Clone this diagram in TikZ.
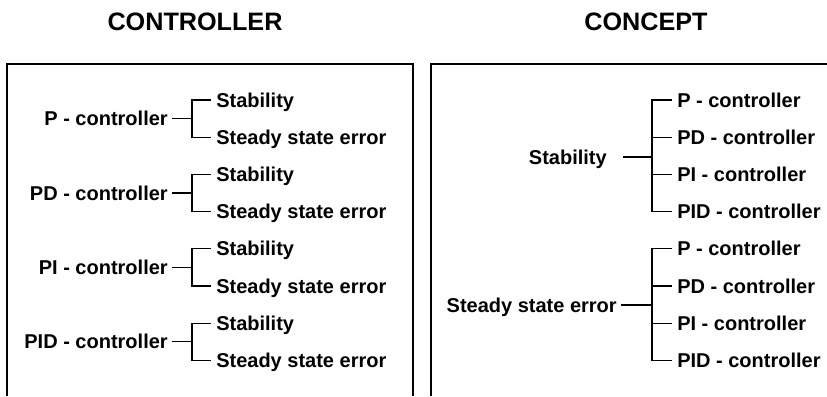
\documentclass[tikz,border=0pt]{standalone}
\usepackage{fontspec}
\setmainfont{Liberation Sans}
\begin{document}
\begin{tikzpicture}[x=0.75pt,y=-0.75pt,
  txt/.style={font=\bfseries\fontsize{15}{18}\selectfont, text height=10.7pt, text depth=0pt, inner ysep=0pt},
  item/.style={txt, anchor=west, inner xsep=3.75pt},
  lbl/.style={txt, anchor=east, inner xsep=3pt},
  title/.style={font=\bfseries\fontsize{18.9}{22}\selectfont, text height=13.5pt, text depth=0pt, inner sep=0pt},
  frame/.style={line width=1.5pt},
  link/.style={line width=0.9pt}]
\useasboundingbox (0,0) rectangle (827,396);

% headings
\node[title] (tctl) at (195,21) {CONTROLLER};
\node[title] (tcon) at (646,21) {CONCEPT};

% open frames
\draw[frame] (7,396) -- (7,64) -- (413,64) -- (413,396);
\draw[frame] (431,396) -- (431,64) -- (827,64);

% left panel: each controller with its two properties
\foreach \ctl [count=\i from 0] in {P,PD,PI,PID} {
  \pgfmathsetmacro\ya{100+74.4*\i}
  \pgfmathsetmacro\yb{\ya+37.2}
  \pgfmathsetmacro\ym{\ya+18.6}
  \node[lbl] (L\i) at (172,\ym) {\ctl\ - controller};
  \coordinate (LJ\i) at (192,\ym);
  \node[item] (LS\i) at (211,\ya) {Stability};
  \node[item] (LE\i) at (211,\yb) {Steady state error};
  \draw[link] (L\i.east) -- (LJ\i);
  \draw[link] (LS\i.west) -| (LJ\i) |- (LE\i.west);
}

% right panel: each property with the four controllers
\node[lbl] (RS) at (611,157) {Stability};
\coordinate (RSJ) at (652,157);
\node[lbl] (RE) at (621,305) {Steady state error};
\coordinate (REJ) at (652,305);
\draw[link] ([xshift=9pt]RS.east) -- (RSJ);
\draw[link] (RE.east) -- (REJ);

\foreach \ctl [count=\i from 0] in {P,PD,PI,PID} {
  \pgfmathsetmacro\ya{100+37.2*\i}
  \pgfmathsetmacro\yb{\ya+148.8}
  \node[item] (RA\i) at (672,\ya) {\ctl\ - controller};
  \node[item] (RB\i) at (672,\yb) {\ctl\ - controller};
}
\draw[link] (RA0.west) -| (RSJ) |- (RA3.west);
\draw[link] (RA1.west) -- (RA1.west -| RSJ);
\draw[link] (RA2.west) -- (RA2.west -| RSJ);
\draw[link] (RB0.west) -| (REJ) |- (RB3.west);
\draw[link] (RB1.west) -- (RB1.west -| REJ);
\draw[link] (RB2.west) -- (RB2.west -| REJ);
\end{tikzpicture}
\end{document}
